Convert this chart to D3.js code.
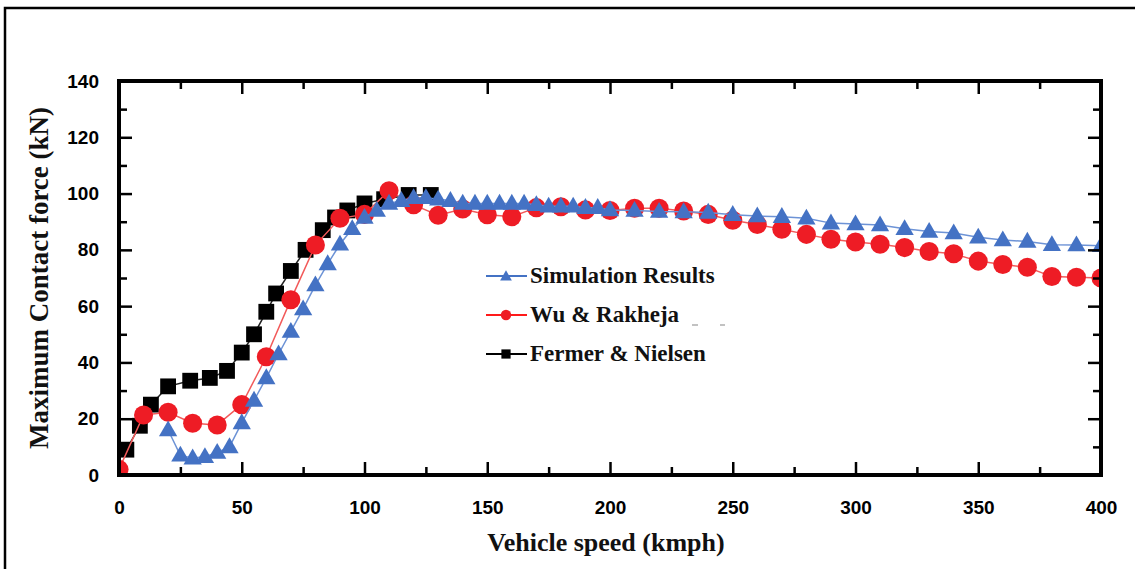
<!DOCTYPE html>
<html>
<head>
<meta charset="utf-8">
<script src="https://cdn.jsdelivr.net/npm/d3@7"></script>
<style>
  html, body { margin: 0; padding: 0; background: #fff; }
  svg { display: block; }
</style>
</head>
<body>
<script>
// ---------- DATA ----------
const seriesNames = ["Simulation Results", "Wu & Rakheja", "Fermer & Nielsen"];

const simSpeed = [20,25,30,35,40,45,50,55,60,65,70,75,80,85,90,95,100,105,110,115,120,125,130,135,140,145,150,155,160,165,170,175,180,185,190,195,200,210,220,230,240,250,260,270,280,290,300,310,320,330,340,350,360,370,380,390,400];
const simForce = [16,7,6,6.5,8,10,18.5,26.5,34.5,43,51,59,67.5,75,82,87.5,91.5,94,96.5,97.5,98.5,98.5,98,97.5,96.5,96.5,96.5,96.5,96.5,96.5,96,95.5,95.5,95.5,95,95,94.2,94,93.6,93.5,93.3,92.5,92,91.8,91.2,89.5,89.2,88.8,87.5,86.5,86,84.5,83.5,83,81.8,81.7,81.5];

const wuSpeed = [0,10,20,30,40,50,60,70,80,90,100,110,120,130,140,150,160,170,180,190,200,210,220,230,240,250,260,270,280,290,300,310,320,330,340,350,360,370,380,390,400];
const wuForce = [2,21.3,22.3,18.4,17.8,25,42,62.3,81.7,91.2,92.6,101,96,92.3,94.5,92.5,91.8,95,95.3,94.2,94,94.8,94.8,93.8,92.6,90.5,89,87.3,85.5,83.8,82.8,82,80.8,79.4,78.6,76,74.8,73.8,70.5,70.3,70];

const fnSpeed = [3,8.5,13,20,29,37,44,50,55,60,64,70,76,83,88,93,100,108,118,127];
const fnForce = [9,17.5,25,31.5,33.5,34.5,37,43.5,50,58,64.5,72.5,80,87,91.5,94,96.5,98,99.5,99.5];

const xTicks = [0,50,100,150,200,250,300,350,400];
const yTicks = [0,20,40,60,80,100,120,140];
const xMinor = [25,75,125,175,225,275,325,375];
const yMinor = [10,30,50,70,90,110,130];

const xTitle = "Vehicle speed (kmph)";
const yTitle = "Maximum Contact force (kN)";

// ---------- LAYOUT ----------
const W = 1135, H = 569;
const L = 119, R = 1101, T = 81, B = 475;

const svg = d3.select("body").append("svg").attr("width", W).attr("height", H);

// outer frame
svg.append("rect").attr("x", 5).attr("y", 8).attr("width", W + 20).attr("height", H + 20)
  .attr("fill", "none").attr("stroke", "#000").attr("stroke-width", 2.5);

const x = d3.scaleLinear().domain([0, 400]).range([L, R]);
const y = d3.scaleLinear().domain([0, 140]).range([B, T]);

svg.append("clipPath").attr("id", "plotclip").append("rect")
  .attr("x", L).attr("y", T).attr("width", R - L).attr("height", B - T);

const colors = { sim: "#4472c4", wu: "#ee1c25", fn: "#000000" };
const lineColors = { sim: "#6d93d6", wu: "#f25a5a", fn: "#222" };

const plot = svg.append("g").attr("clip-path", "url(#plotclip)");

function series(speed, force) { return speed.map((s, i) => [s, force[i]]); }
const fnData = series(fnSpeed, fnForce);
const wuData = series(wuSpeed, wuForce);
const simData = series(simSpeed, simForce);

const line = d3.line().x(d => x(d[0])).y(d => y(d[1]));

const sqSym = d3.symbol().type(d3.symbolSquare).size(250);
const ciSym = d3.symbol().type(d3.symbolCircle).size(285);
const trSym = d3.symbol().type(d3.symbolTriangle).size(145);

// Fermer & Nielsen (bottom)
plot.append("path").datum(fnData).attr("d", line).attr("fill", "none")
  .attr("stroke", lineColors.fn).attr("stroke-width", 1.5);
plot.selectAll(".fn").data(fnData).enter().append("path")
  .attr("d", sqSym).attr("transform", d => `translate(${x(d[0])},${y(d[1])})`).attr("fill", colors.fn);

// Wu & Rakheja
plot.append("path").datum(wuData).attr("d", line).attr("fill", "none")
  .attr("stroke", lineColors.wu).attr("stroke-width", 1.5);
plot.selectAll(".wu").data(wuData).enter().append("path")
  .attr("d", ciSym).attr("transform", d => `translate(${x(d[0])},${y(d[1])})`).attr("fill", colors.wu);

// Simulation
plot.append("path").datum(simData).attr("d", line).attr("fill", "none")
  .attr("stroke", lineColors.sim).attr("stroke-width", 1.5);
plot.selectAll(".sim").data(simData).enter().append("path")
  .attr("d", trSym).attr("transform", d => `translate(${x(d[0])},${y(d[1]) + 1})`).attr("fill", colors.sim);

// ---------- AXES ----------
const axW = 4;
const tickFont = "'Liberation Sans', Arial, sans-serif";
function styleAxis(g) {
  g.select(".domain").remove();
  g.selectAll(".tick line").attr("stroke", "#000").attr("stroke-width", 2.5);
}
// bottom
const gB = svg.append("g").attr("transform", `translate(0,${B})`)
  .call(d3.axisBottom(x).tickValues(xTicks).tickSize(-13).tickPadding(26).tickFormat(d3.format("d")));
styleAxis(gB);
gB.selectAll("text").attr("font-family", tickFont).attr("font-weight", "bold").attr("font-size", 19).attr("fill", "#000");
svg.append("g").attr("transform", `translate(0,${B})`)
  .call(d3.axisBottom(x).tickValues(xMinor).tickSize(-8).tickFormat("")).call(styleAxis);
// top
svg.append("g").attr("transform", `translate(0,${T})`)
  .call(d3.axisTop(x).tickValues(xTicks).tickSize(-13).tickFormat("")).call(styleAxis);
svg.append("g").attr("transform", `translate(0,${T})`)
  .call(d3.axisTop(x).tickValues(xMinor).tickSize(-8).tickFormat("")).call(styleAxis);
// left
const gL = svg.append("g").attr("transform", `translate(${L},0)`)
  .call(d3.axisLeft(y).tickValues(yTicks).tickSize(-13).tickPadding(20).tickFormat(d3.format("d")));
styleAxis(gL);
gL.selectAll("text").attr("font-family", tickFont).attr("font-weight", "bold").attr("font-size", 19).attr("fill", "#000");
svg.append("g").attr("transform", `translate(${L},0)`)
  .call(d3.axisLeft(y).tickValues(yMinor).tickSize(-8).tickFormat("")).call(styleAxis);
// right
svg.append("g").attr("transform", `translate(${R},0)`)
  .call(d3.axisRight(y).tickValues(yTicks).tickSize(-13).tickFormat("")).call(styleAxis);
svg.append("g").attr("transform", `translate(${R},0)`)
  .call(d3.axisRight(y).tickValues(yMinor).tickSize(-8).tickFormat("")).call(styleAxis);

// frame of plot
svg.append("rect").attr("x", L).attr("y", T).attr("width", R - L).attr("height", B - T)
  .attr("fill", "none").attr("stroke", "#000").attr("stroke-width", axW);

// ---------- TITLES ----------
const serif = "'Liberation Serif', 'Times New Roman', serif";
svg.append("text").attr("x", 606).attr("y", 551).attr("text-anchor", "middle")
  .attr("font-family", serif).attr("font-weight", "bold").attr("font-size", 26).attr("fill", "#111")
  .text(xTitle);
svg.append("text").attr("transform", `translate(48,${(T + B) / 2}) rotate(-90)`).attr("text-anchor", "middle")
  .attr("font-family", serif).attr("font-weight", "bold").attr("font-size", 27).attr("fill", "#111")
  .text(yTitle);

// ---------- LEGEND ----------
const legKeys = ["sim", "wu", "fn"];
const legSyms = [
  d3.symbol().type(d3.symbolTriangle).size(60),
  d3.symbol().type(d3.symbolCircle).size(85),
  d3.symbol().type(d3.symbolSquare).size(85)
];
const legY = [276, 315, 354];
const leg = svg.append("g");
legKeys.forEach((k, i) => {
  const g = leg.append("g").attr("transform", `translate(0,${legY[i]})`);
  g.append("line").attr("x1", 486).attr("x2", 527).attr("y1", 0).attr("y2", 0)
    .attr("stroke", k === "fn" ? "#000" : (k === "wu" ? "#ff1a1a" : colors.sim)).attr("stroke-width", 2);
  g.append("path").attr("d", legSyms[i]).attr("transform", `translate(506,${k === "sim" ? 1 : 0})`).attr("fill", colors[k]);
  g.append("text").attr("x", 530).attr("y", 7).attr("font-family", serif).attr("font-weight", "bold")
    .attr("font-size", 23).attr("fill", "#111").text(seriesNames[i]);
});
// faint stray marks beside the legend
[[692, 698], [720, 725]].forEach(s => {
  leg.append("line").attr("x1", s[0]).attr("x2", s[1]).attr("y1", 325).attr("y2", 325)
    .attr("stroke", "#999").attr("stroke-width", 1.2);
});
</script>
</body>
</html>
